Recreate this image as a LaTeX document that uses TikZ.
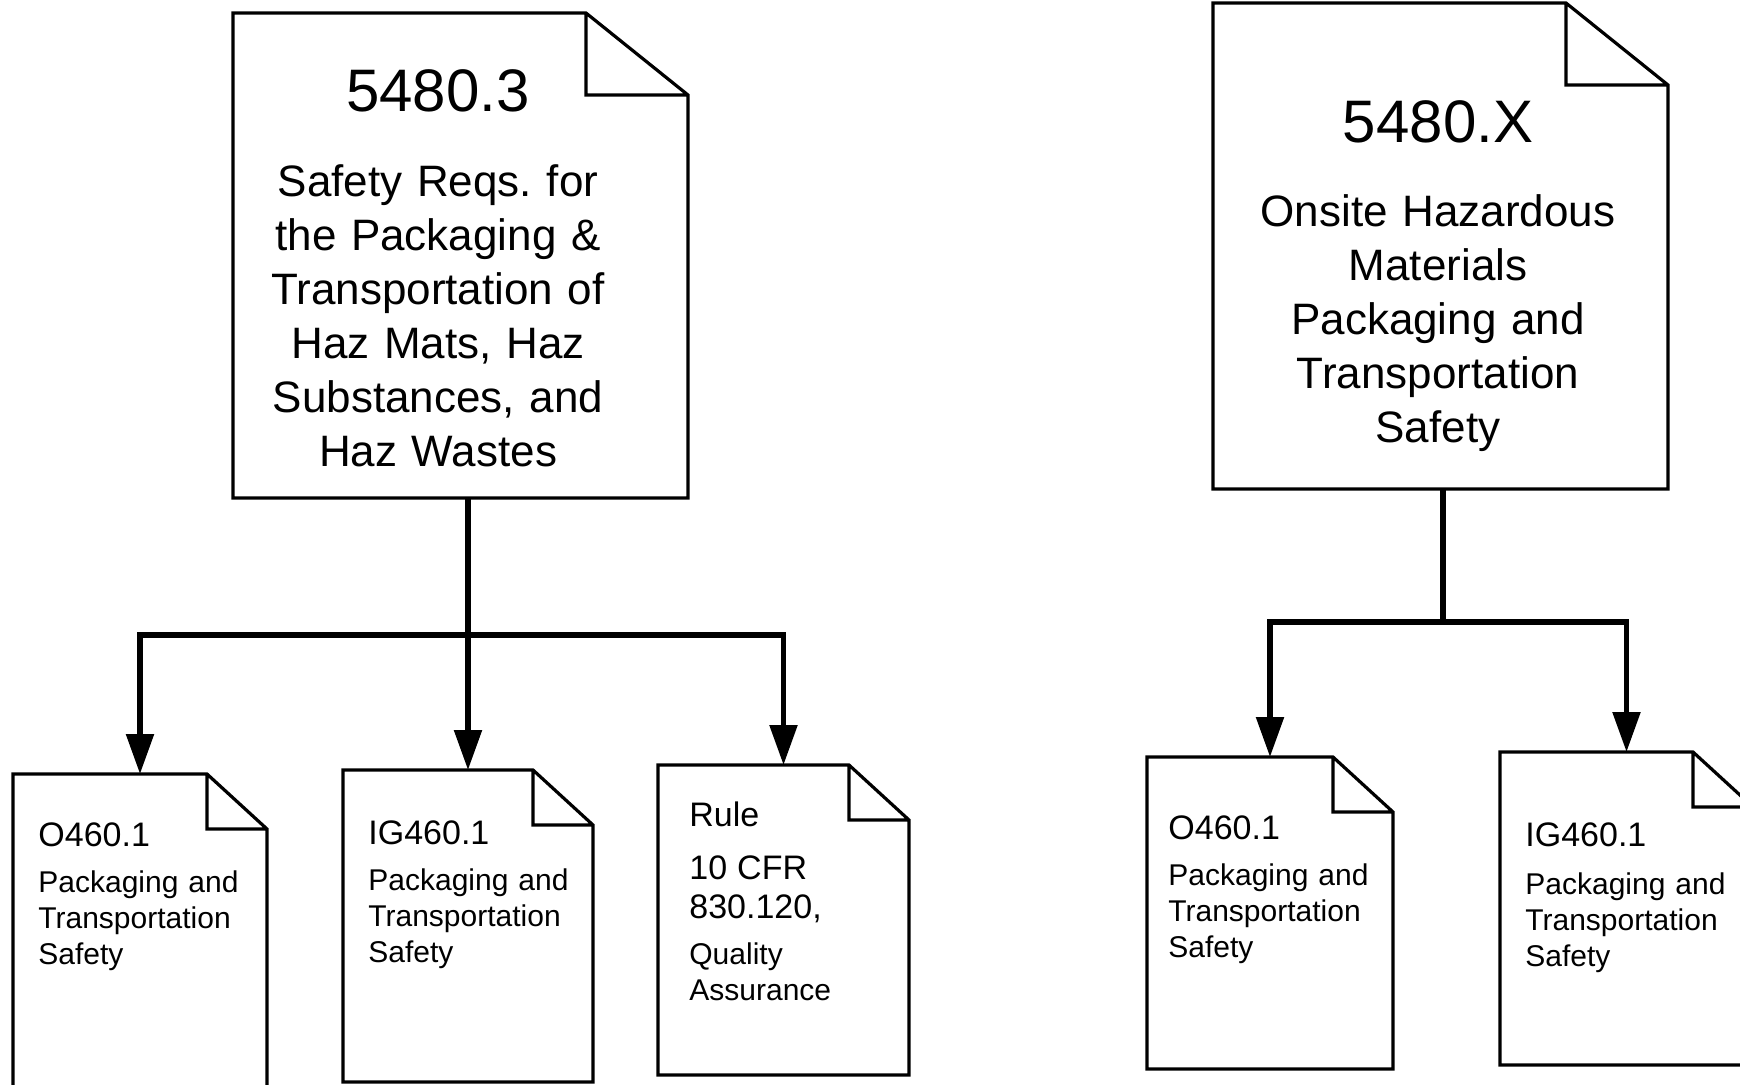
\documentclass[tikz,border=0pt]{standalone}
\usepackage{fontspec}
\setmainfont{Liberation Sans}
\usetikzlibrary{arrows.meta}
\frenchspacing

\begin{document}
\begin{tikzpicture}[
  x=0.5pt, y=-0.5pt,
  doc/.style 2 args={minimum width=#1,minimum height=#2,inner sep=0pt,outer sep=0pt},
  outline/.style={draw,line width=1.6pt},
  link/.style={line width=2.7pt},
  arr/.style={link,-{Triangle[length=20pt,width=13.5pt]}},
  bigtxt/.style={inner sep=0pt,anchor=north,text width=210pt,align=center,font=\fontsize{22}{27}\selectfont},
  smalltxt/.style={inner sep=0pt,anchor=north west,text width=115pt,align=left,font=\fontsize{15}{18}\selectfont}
]
\useasboundingbox (0,0) rectangle (1740,1084);
% Top documents
\node[doc={227.5pt}{242.5pt}] (d53) at (460.5,255.5) {};
\node[doc={227.5pt}{243pt}] (d5x) at (1440.5,246) {};
% Bottom documents
\node[doc={127pt}{158pt}] (dA) at (140,932) {};
\node[doc={125pt}{156pt}] (dB) at (468,926) {};
\node[doc={125.5pt}{155pt}] (dC) at (783.5,920) {};
\node[doc={123pt}{156pt}] (dD) at (1270,913) {};
\node[doc={126.5pt}{156.5pt}] (dE) at (1626.5,908.5) {};

% page outlines with folded corner
\foreach \d/\fw/\fh in {d53/51pt/41pt,d5x/51pt/41pt,dA/30pt/27.5pt,dB/30pt/27.5pt,dC/30pt/27.5pt,dD/30pt/27.5pt,dE/30pt/27.5pt}
  \draw[outline] (\d.north west) -- ([xshift=-\fw]\d.north east) -- ([yshift=-\fh]\d.north east)
    -- (\d.south east) -- (\d.south west) -- cycle
    ([xshift=-\fw]\d.north east) |- ([yshift=-\fh]\d.north east);

% Texts
\node[bigtxt] (t53) at (438,69) {{\fontsize{30}{30}\selectfont 5480.3}\\[15.5pt]
  Safety Reqs. for\\ the Packaging \&\\ Transportation of\\ Haz Mats, Haz\\ Substances, and\\ Haz Wastes};
\node[bigtxt] (t5x) at (1438,100) {{\fontsize{30}{30}\selectfont 5480.X}\\[15pt]
  Onsite Hazardous\\ Materials\\ Packaging and\\ Transportation\\ Safety};
\node[smalltxt] (tA) at (38,822) {{\fontsize{17}{18}\selectfont O460.1}\\[5pt] Packaging and\\ Transportation\\ Safety};
\node[smalltxt] (tB) at (368,820) {{\fontsize{17}{18}\selectfont IG460.1}\\[5pt] Packaging and\\ Transportation\\ Safety};
\node[smalltxt] (tC) at (689,801) {{\fontsize{17}{19}\selectfont Rule}\\[8.5pt]
  {\fontsize{17}{19}\selectfont 10 CFR}\\[1.5pt] {\fontsize{17}{19}\selectfont 830.120,}\\[5pt] Quality\\ Assurance};
\node[smalltxt] (tD) at (1168,815) {{\fontsize{17}{18}\selectfont O460.1}\\[5pt] Packaging and\\ Transportation\\ Safety};
\node[smalltxt] (tE) at (1525,822) {{\fontsize{17}{18}\selectfont IG460.1}\\[6pt] Packaging and\\ Transportation\\ Safety};

% Connectors
\coordinate (b1) at (468,635);
\coordinate (b2) at (1443,622);
\draw[link] (d53.south -| b1) -- (b1);
\draw[arr] (b1) -| (dA.north);
\draw[arr] (b1) -- (dB.north);
\draw[arr] (b1) -| (dC.north);
\draw[link] (d5x.south -| b2) -- (b2);
\draw[arr] (b2) -| (dD.north);
\draw[arr] (b2) -| (dE.north);
\end{tikzpicture}
\end{document}
